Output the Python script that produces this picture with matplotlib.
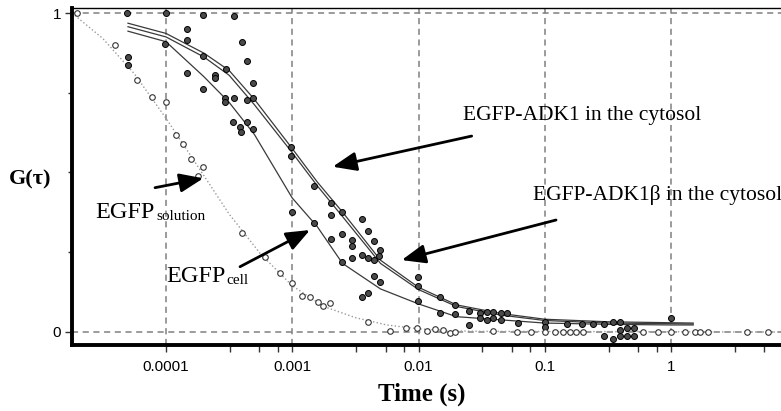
import matplotlib
matplotlib.use('Agg')
import matplotlib.pyplot as plt
from matplotlib.ticker import FixedLocator, FixedFormatter, NullFormatter

# x tick labels (decades)
tick_vals = [1e-4, 1e-3, 1e-2, 1e-1, 1.0]
tick_labels = ['0.0001', '0.001', '0.01', '0.1', '1']
minor_mult = [3.2, 5.5, 7.7]

# fitted curves
fit_t = [5e-5, 1e-4, 2e-4, 3.16e-4, 5e-4, 1e-3, 1.58e-3, 2.5e-3, 5e-3,
         1e-2, 2e-2, 4.5e-2, 0.1, 0.316, 1.0, 1.5]
adk1_fit = [0.968, 0.936, 0.874, 0.82, 0.73, 0.575, 0.47, 0.376, 0.225,
            0.14, 0.085, 0.058, 0.04, 0.032, 0.029, 0.028]
adk1b_fit = [0.957, 0.925, 0.862, 0.805, 0.713, 0.562, 0.458, 0.362, 0.215,
             0.133, 0.080, 0.053, 0.036, 0.028, 0.026, 0.025]
cell_fit = [0.943, 0.91, 0.80, 0.72, 0.62, 0.42, 0.33, 0.215, 0.135,
            0.088, 0.048, 0.038, 0.028, 0.024, 0.022, 0.022]

sol_fit_t = [1.8e-5, 3.16e-5, 5.6e-5, 1e-4, 1.78e-4, 3.16e-4, 5.6e-4, 1e-3,
             1.78e-3, 3.16e-3, 5.6e-3, 1e-2, 1.78e-2, 3.16e-2, 7.5]
sol_fit_g = [1.0, 0.92, 0.81, 0.67, 0.52, 0.37, 0.245, 0.145,
             0.08, 0.045, 0.022, 0.01, 0.004, 0.002, 0.0]

# measured points, EGFP in solution (open circles)
sol_t = [1.96e-5, 3.94e-5, 5.86e-5, 7.7e-5, 9.95e-5, 1.2e-4, 1.37e-4, 1.57e-4,
         1.98e-4, 1.8e-4, 3.98e-4, 6.1e-4, 8.0e-4, 9.9e-4, 1.19e-3, 1.38e-3,
         1.61e-3, 1.76e-3, 2.0e-3, 4.0e-3, 5.96e-3, 7.98e-3, 9.7e-3, 1.16e-2,
         1.35e-2, 1.57e-2, 1.78e-2, 1.95e-2, 3.92e-2, 6.04e-2, 7.8e-2, 0.1,
         0.121, 0.14, 0.159, 0.177, 0.201, 0.603, 0.785, 1.0, 1.3, 1.55, 1.7,
         1.97, 4.0, 5.88]
sol_g = [1.0, 0.90, 0.79, 0.738, 0.722, 0.617, 0.588, 0.541,
         0.518, 0.489, 0.311, 0.236, 0.186, 0.153, 0.113, 0.111,
         0.095, 0.082, 0.092, 0.030, 0.004, 0.013, 0.013, 0.004,
         0.008, 0.006, -0.004, 0.001, 0.004, 0.001, 0.001, 0.001,
         0.001, 0.001, 0.001, 0.001, 0.001, 0.001, 0.001, 0.001, 0.001, 0.001, 0.001,
         0.001, 0.001, 0.001]

# measured points, EGFP-ADK1 / ADK1beta (filled circles)
adk_t = [4.9e-5, 1.0e-4, 1.96e-4, 3.43e-4, 1.46e-4, 1.47e-4, 9.8e-5, 3.98e-4,
         1.98e-4, 4.36e-4, 2.44e-4, 2.44e-4, 2.96e-4, 4.92e-4, 4.36e-4, 4.92e-4,
         9.7e-4, 9.7e-4, 1.5e-3, 2.01e-3, 2.01e-3, 2.47e-3, 3.54e-3, 4.01e-3,
         2.98e-3, 2.98e-3, 4.45e-3, 4.97e-3, 2.47e-3, 3.54e-3, 4.01e-3, 4.41e-3,
         4.83e-3, 2.98e-3, 4.45e-3, 4.97e-3, 9.93e-3, 9.93e-3, 9.93e-3, 1.47e-2,
         1.95e-2, 2.5e-2, 3.08e-2, 3.47e-2, 3.92e-2, 4.49e-2, 5.0e-2]
adk_g = [1.0, 1.0, 0.995, 0.99, 0.95, 0.915, 0.902, 0.91,
         0.865, 0.85, 0.806, 0.796, 0.823, 0.78, 0.727, 0.734,
         0.58, 0.553, 0.458, 0.403, 0.367, 0.377, 0.353, 0.317,
         0.287, 0.27, 0.286, 0.257, 0.307, 0.241, 0.231, 0.226,
         0.237, 0.231, 0.176, 0.158, 0.172, 0.144, 0.097, 0.111,
         0.085, 0.066, 0.059, 0.064, 0.063, 0.059, 0.059]

# measured points, EGFP in the cell (filled circles)
cell_t = [5.03e-5, 5.03e-5, 1.46e-4, 1.98e-4, 2.91e-4, 2.91e-4, 3.43e-4, 3.41e-4,
          3.86e-4, 3.96e-4, 4.36e-4, 4.92e-4, 9.9e-4, 1.5e-3, 2.01e-3, 2.47e-3,
          3.54e-3, 4.01e-3, 1.47e-2, 1.95e-2, 2.5e-2, 3.08e-2, 3.47e-2, 3.92e-2,
          4.49e-2, 6.19e-2]
cell_g = [0.861, 0.837, 0.811, 0.761, 0.734, 0.721, 0.733, 0.658,
          0.644, 0.627, 0.658, 0.636, 0.377, 0.342, 0.291, 0.22,
          0.111, 0.121, 0.06, 0.056, 0.022, 0.043, 0.038, 0.043,
          0.038, 0.027]

# long-time tail of the cytosol measurements
tail_t = [0.1, 0.1, 0.15, 0.197, 0.243, 0.292, 0.35, 0.395, 0.395, 0.448,
          0.505, 0.296, 0.347, 0.395, 0.448, 0.505, 1.0]
tail_g = [0.031, 0.017, 0.025, 0.025, 0.024, 0.024, 0.032, 0.032, 0.006, 0.014,
          0.014, -0.013, -0.023, -0.013, -0.013, -0.013, 0.043]

serif = 'Liberation Serif'
sans = 'Liberation Sans'

fig = plt.figure(figsize=(7.81, 4.11), dpi=100)
ax = fig.add_axes([72 / 781, 66 / 411, 709 / 781, 337 / 411])
ax.set_xscale('log')
ax.set_xlim(10 ** -4.7446, 10 ** 0.8713)
ax.set_ylim(-0.0408, 1.0157)

# fit lines
ax.plot(sol_fit_t, sol_fit_g, ls=':', color='#9a9a9a', lw=1.0, zorder=2)
ax.plot(fit_t, adk1_fit, color='#3a3a3a', lw=0.9, zorder=2)
ax.plot(fit_t, adk1b_fit, color='#3a3a3a', lw=0.9, zorder=2)
ax.plot(fit_t, cell_fit, color='#3a3a3a', lw=0.9, zorder=2)

# data points
filled = dict(ls='none', marker='o', ms=4.3, mfc='#4a4a4a', mec='black', mew=0.7, zorder=3)
ax.plot(adk_t, adk_g, **filled)
ax.plot(cell_t, cell_g, **filled)
ax.plot(tail_t, tail_g, **filled)
ax.plot(sol_t, sol_g, ls='none', marker='o', ms=4.0, mfc='white', mec='#333333',
        mew=0.8, zorder=3)

# ticks
ax.xaxis.set_major_locator(FixedLocator(tick_vals))
ax.xaxis.set_major_formatter(FixedFormatter(tick_labels))
ax.xaxis.set_minor_locator(FixedLocator([m * d for d in tick_vals for m in minor_mult]))
ax.xaxis.set_minor_formatter(NullFormatter())
ax.yaxis.set_major_locator(FixedLocator([0, 1]))
ax.yaxis.set_major_formatter(FixedFormatter(['0', '1']))
ax.yaxis.set_minor_locator(FixedLocator([0.25, 0.5, 0.75]))
ax.tick_params(which='major', direction='out', length=5, width=1, colors='#333333',
               labelsize=11, pad=6, labelcolor='black')
ax.tick_params(axis='x', which='minor', direction='out', length=5, width=1, colors='#333333')
ax.tick_params(axis='y', which='minor', direction='out', length=3, width=1, colors='#333333')
ax.tick_params(axis='y', which='major', pad=3)
for lab in ax.get_xticklabels() + ax.get_yticklabels():
    lab.set_fontfamily(sans)

# grid
ax.grid(which='major', ls=(0, (4, 3)), color='#808080', lw=1.1, zorder=1)

# spines
ax.spines['left'].set_linewidth(2.8)
ax.spines['bottom'].set_linewidth(2.8)
ax.spines['top'].set_linewidth(1.0)
ax.spines['right'].set_visible(False)

ax.set_xlabel('Time (s)', fontfamily=serif, fontweight='bold', fontsize=18)
ax.xaxis.set_label_coords(0.494, -0.112)
ax.set_ylabel('G(\u03c4)', fontfamily=serif, fontweight='bold', fontsize=16, rotation=0)
ax.yaxis.set_label_coords(-0.059, 0.46)

# annotations
arrow = dict(arrowstyle='-|>,head_length=0.8,head_width=0.32', color='black',
             lw=2.0, mutation_scale=18, shrinkA=0, shrinkB=0)
ax.annotate('', xy=(0.3677, 0.529), xytext=(0.5637, 0.620),
            xycoords='axes fraction', arrowprops=arrow)
ax.annotate('', xy=(0.465, 0.252), xytext=(0.6827, 0.3709),
            xycoords='axes fraction', arrowprops=arrow)
ax.annotate('', xy=(0.1852, 0.4947), xytext=(0.1171, 0.4668),
            xycoords='axes fraction', arrowprops=arrow)
ax.annotate('', xy=(0.3357, 0.3412), xytext=(0.2370, 0.2323),
            xycoords='axes fraction', arrowprops=arrow)

ax.text(0.5514, 0.668, 'EGFP-ADK1 in the cytosol', transform=ax.transAxes,
        fontfamily=serif, fontsize=15.5, va='baseline', ha='left')
ax.text(0.650, 0.430, 'EGFP-ADK1\u03b2 in the cytosol', transform=ax.transAxes,
        fontfamily=serif, fontsize=15.5, va='baseline', ha='left')
ax.text(0.0324, 0.376, 'EGFP', transform=ax.transAxes,
        fontfamily=serif, fontsize=17.5, va='baseline', ha='left')
ax.text(0.1185, 0.370, 'solution', transform=ax.transAxes,
        fontfamily=serif, fontsize=11, va='baseline', ha='left')
ax.text(0.1336, 0.188, 'EGFP', transform=ax.transAxes,
        fontfamily=serif, fontsize=17.5, va='baseline', ha='left')
ax.text(0.2172, 0.180, 'cell', transform=ax.transAxes,
        fontfamily=serif, fontsize=11, va='baseline', ha='left')

fig.savefig('out.png', dpi=100)
